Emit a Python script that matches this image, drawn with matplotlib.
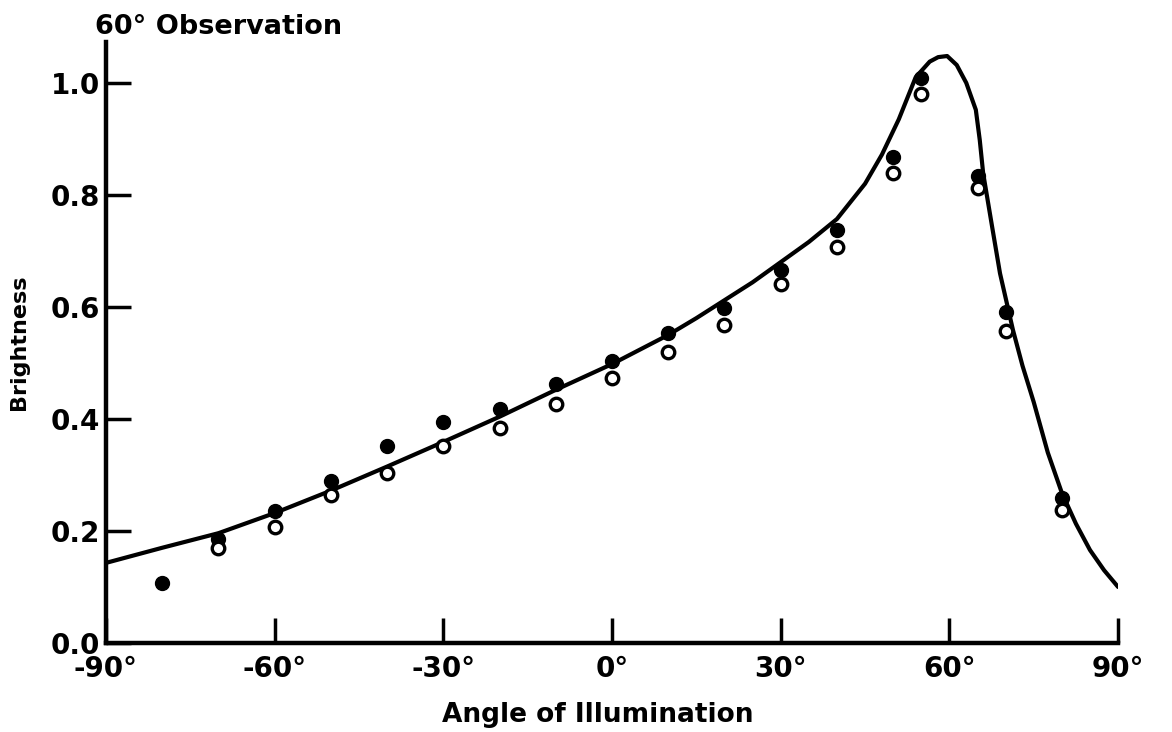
import matplotlib.pyplot as plt

# measured points (filled = one data set, open = the other)
angles = [-80, -70, -60, -50, -40, -30, -20, -10, 0, 10, 20, 30, 40, 50, 55, 65, 70, 80]
filled = [0.107, 0.185, 0.236, 0.290, 0.352, 0.395, 0.418, 0.462, 0.503, 0.554,
          0.598, 0.666, 0.738, 0.868, 1.009, 0.834, 0.591, 0.259]
open_pts = [None, 0.170, 0.207, 0.265, 0.304, 0.352, 0.384, 0.427, 0.473, 0.520,
            0.568, 0.641, 0.707, 0.839, 0.980, 0.812, 0.557, 0.238]

# theoretical curve
curve_x = [-90, -80, -70, -60, -50, -40, -30, -20, -10, 0, 10, 15, 20, 25, 30, 35, 40, 45, 48,
           51, 54, 56.5, 58, 59.6, 61.3, 63, 64.7, 65.4, 66, 67.6, 69, 71.3, 73, 75, 77.5,
           80, 82.5, 85, 87.5, 90]
curve_y = [0.143, 0.170, 0.196, 0.232, 0.272, 0.315, 0.359, 0.404, 0.452, 0.498, 0.550,
           0.580, 0.612, 0.644, 0.680, 0.716, 0.757, 0.820, 0.872, 0.935, 1.010, 1.038,
           1.046, 1.048, 1.032, 1.000, 0.952, 0.898, 0.839, 0.743, 0.660, 0.559, 0.495,
           0.430, 0.340, 0.268, 0.213, 0.166, 0.130, 0.100]

x_ticks = [-90, -60, -30, 0, 30, 60, 90]
x_labels = ["-90°", "-60°", "-30°", "0°", "30°", "60°", "90°"]
y_ticks = [0.0, 0.2, 0.4, 0.6, 0.8, 1.0]
y_labels = ["0.0", "0.2", "0.4", "0.6", "0.8", "1.0"]

plt.rcParams['font.family'] = ['DejaVu Sans']
plt.rcParams['font.weight'] = 'bold'

fig = plt.figure(figsize=(11.72, 7.32), dpi=100)
ax = fig.add_axes([0.0904, 0.1216, 0.8636, 0.821])

ax.plot(curve_x, curve_y, color="black", lw=3, solid_capstyle="round",
        solid_joinstyle="round", zorder=2)
ax.plot(angles, filled, "o", color="black", ms=10, zorder=3)
ox = [a for a, v in zip(angles, open_pts) if v is not None]
oy = [v for v in open_pts if v is not None]
ax.plot(ox, oy, "o", mfc="white", mec="black", mew=2.4, ms=9, zorder=4)

ax.set_xlim(-90, 90)
ax.set_ylim(0, 1.073)
ax.spines["top"].set_visible(False)
ax.spines["right"].set_visible(False)
for s in ("left", "bottom"):
    ax.spines[s].set_linewidth(3.2)

ax.set_xticks(x_ticks)
ax.set_xticklabels(x_labels, fontsize=20, fontweight="bold")
ax.set_yticks(y_ticks)
ax.set_yticklabels(y_labels, fontsize=20, fontweight="bold")
ax.tick_params(axis="both", direction="in", length=18, width=2.5)
ax.tick_params(axis="y", pad=4)
ax.tick_params(axis="x", pad=9)

ax.set_xlabel("Angle of Illumination", fontsize=19, fontweight="bold")
ax.xaxis.set_label_coords(0.486, -0.098)
ax.set_ylabel("Brightness", fontsize=16, fontweight="bold")
ax.yaxis.set_label_coords(-0.076, 0.5)
fig.text(0.081, 0.963, "60° Observation", fontsize=19.5, fontweight="bold", ha="left", va="center")

fig.savefig("out.png", dpi=100)
